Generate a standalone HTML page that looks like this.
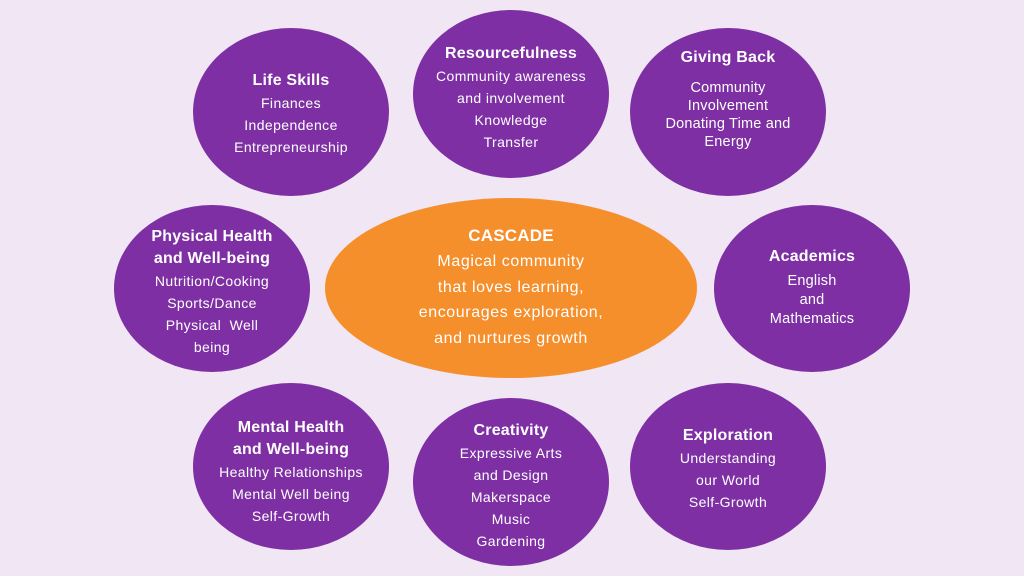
<!DOCTYPE html>
<html><head><meta charset="utf-8"><style>
body{margin:0;width:1024px;height:576px;background:#f0e6f4;position:relative;overflow:hidden;font-family:"Liberation Sans",sans-serif;color:#fff}
.e{position:absolute;border-radius:50%;background:#7e2fa3}
.t{position:absolute;width:240px;height:20px;line-height:20px;text-align:center;font-size:14px;letter-spacing:0.4px;white-space:nowrap}
.b{font-weight:bold;font-size:16px;letter-spacing:0.2px}
.c{font-size:16px;letter-spacing:0.6px}
.g{font-size:14.5px;letter-spacing:0.2px}
</style></head><body>
<div class="e" style="left:193px;top:28px;width:196px;height:168px"></div>
<div class="e" style="left:413px;top:10px;width:196px;height:168px"></div>
<div class="e" style="left:630px;top:28px;width:196px;height:168px"></div>
<div class="e" style="left:114px;top:205px;width:196px;height:167px"></div>
<div class="e" style="left:325px;top:198px;width:372px;height:180px;background:#f58f2c"></div>
<div class="e" style="left:714px;top:205px;width:196px;height:167px"></div>
<div class="e" style="left:193px;top:383px;width:196px;height:167px"></div>
<div class="e" style="left:413px;top:398px;width:196px;height:168px"></div>
<div class="e" style="left:630px;top:383px;width:196px;height:167px"></div>

<div class="t b" style="left:171px;top:71px">Life Skills</div>
<div class="t" style="left:171px;top:93px">Finances</div>
<div class="t" style="left:171px;top:115px">Independence</div>
<div class="t" style="left:171px;top:137px">Entrepreneurship</div>

<div class="t b" style="left:391px;top:44px">Resourcefulness</div>
<div class="t" style="left:391px;top:66px">Community awareness</div>
<div class="t" style="left:391px;top:88px">and involvement</div>
<div class="t" style="left:391px;top:110px">Knowledge</div>
<div class="t" style="left:391px;top:132px">Transfer</div>

<div class="t b" style="left:608px;top:48px">Giving Back</div>
<div class="t g" style="left:608px;top:78px">Community</div>
<div class="t g" style="left:608px;top:96px">Involvement</div>
<div class="t g" style="left:608px;top:114px">Donating Time and</div>
<div class="t g" style="left:608px;top:132px">Energy</div>

<div class="t b" style="left:92px;top:227px">Physical Health</div>
<div class="t b" style="left:92px;top:249px">and Well-being</div>
<div class="t" style="left:92px;top:271px">Nutrition/Cooking</div>
<div class="t" style="left:92px;top:293px">Sports/Dance</div>
<div class="t" style="left:92px;top:315px">Physical&nbsp; Well</div>
<div class="t" style="left:92px;top:337px">being</div>

<div class="t b" style="left:391px;top:226px;font-size:17px">CASCADE</div>
<div class="t c" style="left:391px;top:252px">Magical community</div>
<div class="t c" style="left:391px;top:278px">that loves learning,</div>
<div class="t c" style="left:391px;top:303px">encourages exploration,</div>
<div class="t c" style="left:391px;top:329px">and nurtures growth</div>

<div class="t b" style="left:692px;top:247px">Academics</div>
<div class="t g" style="left:692px;top:271px">English</div>
<div class="t g" style="left:692px;top:290px">and</div>
<div class="t g" style="left:692px;top:309px">Mathematics</div>

<div class="t b" style="left:171px;top:418px">Mental Health</div>
<div class="t b" style="left:171px;top:440px">and Well-being</div>
<div class="t" style="left:171px;top:462px">Healthy Relationships</div>
<div class="t" style="left:171px;top:484px">Mental Well being</div>
<div class="t" style="left:171px;top:506px">Self-Growth</div>

<div class="t b" style="left:391px;top:421px">Creativity</div>
<div class="t" style="left:391px;top:443px">Expressive Arts</div>
<div class="t" style="left:391px;top:465px">and Design</div>
<div class="t" style="left:391px;top:487px">Makerspace</div>
<div class="t" style="left:391px;top:509px">Music</div>
<div class="t" style="left:391px;top:531px">Gardening</div>

<div class="t b" style="left:608px;top:426px">Exploration</div>
<div class="t" style="left:608px;top:448px">Understanding</div>
<div class="t" style="left:608px;top:470px">our World</div>
<div class="t" style="left:608px;top:492px">Self-Growth</div>
</body></html>
